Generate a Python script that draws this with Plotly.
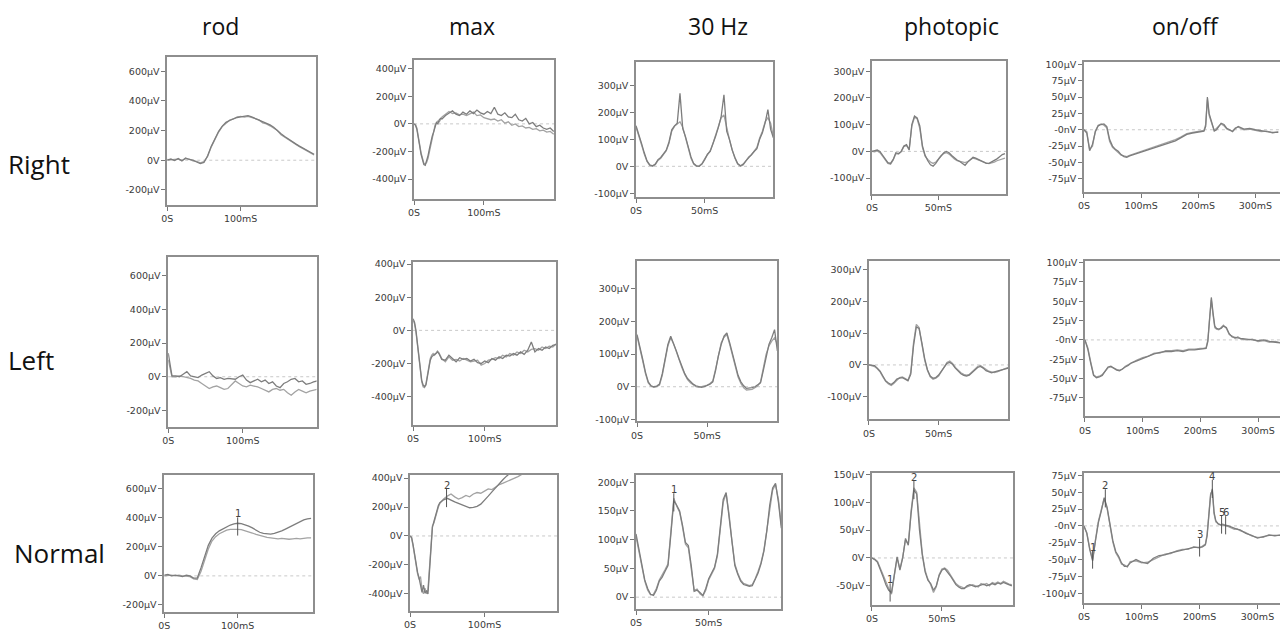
import plotly.graph_objects as go

W, H = 1280, 633

# ---------------- data ----------------
COLUMNS = ["rod", "max", "30 Hz", "photopic", "on/off"]
ROWS = ["Right", "Left", "Normal"]

T_ROD = [0, 5, 10, 15, 20, 25, 30, 35, 40, 45, 50, 55, 60, 65, 70, 75, 80, 85, 90, 95, 100,
         105, 110, 115, 120, 125, 130, 135, 140, 145, 150, 155, 160, 165, 170, 175, 180, 185, 190, 195, 200]
RIGHT_ROD_A = [0, 8, -2, 12, -5, 15, 5, 0, -12, -22, -15, 30, 95, 150, 195, 230, 255, 268, 280, 288, 292,
               298, 300, 292, 282, 268, 258, 248, 238, 222, 198, 178, 160, 142, 126, 110, 95, 80, 66, 55, 40]
RIGHT_ROD_B = [5, 2, 6, 8, 0, 10, 8, -5, -8, -18, -10, 25, 90, 145, 190, 228, 250, 270, 278, 290, 295,
               290, 295, 288, 278, 272, 252, 245, 232, 218, 200, 172, 155, 138, 122, 105, 92, 78, 62, 50, 35]
LEFT_ROD_A = [140, 5, 5, 0, 15, 30, 5, 0, -5, 10, 20, 30, 5, -10, -5, -15, -10, -12, -15, 0, 10,
              -20, -35, -25, -15, -30, -20, -40, -30, -55, -65, -40, -30, -15, -10, -30, -25, -45, -40, -30, -25]
LEFT_ROD_B = [100, 0, 0, 5, 0, -5, -10, -20, -25, -40, -55, -70, -60, -55, -65, -75, -70, -45, -25, -40, -55,
              -60, -50, -55, -60, -70, -80, -90, -75, -70, -80, -75, -95, -110, -90, -75, -85, -95, -85, -80, -75]
NORMAL_ROD_A = [5, 10, 0, 5, 0, -5, 5, 0, -15, -15, 55, 140, 210, 260, 290, 310, 325, 340, 350, 358, 362,
                360, 352, 342, 330, 315, 300, 292, 290, 288, 292, 300, 310, 322, 335, 350, 362, 375, 385, 392, 395]
NORMAL_ROD_B = [0, 5, 5, 0, 5, 0, 0, -5, -20, -25, 30, 110, 185, 240, 270, 290, 305, 315, 320, 322, 320,
                318, 312, 305, 295, 285, 278, 270, 265, 262, 258, 255, 258, 255, 252, 255, 258, 255, 260, 262, 262]

T_MAX = [0, 2, 4, 6, 8, 10, 12, 14, 16, 18, 20, 22, 24, 26, 28, 30, 32, 34, 36, 38, 40,
         45, 50, 55, 60, 65, 70, 75, 80, 85, 90, 95, 100, 105, 110, 115, 120, 125, 130, 135, 140,
         145, 150, 155, 160, 165, 170, 175, 180, 185, 190, 195, 200]
RIGHT_MAX_A = [0, -10, -40, -90, -160, -220, -270, -295, -300, -270, -230, -180, -130, -90, -60, -20, 10, 0, 30, 40, 35,
               60, 80, 95, 70, 60, 85, 70, 95, 75, 100, 80, 70, 90, 75, 120, 70, 60, 80, 50, 45,
               70, 30, 20, 40, 0, 10, -20, -10, -30, -40, -30, -55]
RIGHT_MAX_B = [0, -5, -30, -80, -150, -210, -260, -285, -290, -280, -250, -200, -150, -100, -50, -10, 5, 20, 15, 35, 50,
               70, 90, 75, 80, 65, 70, 60, 70, 85, 60, 65, 45, 40, 30, 35, 20, 30, 5, 15, -10,
               0, -20, -15, -30, -25, -40, -35, -50, -45, -60, -55, -75]
LEFT_MAX_A = [70, 50, 0, -80, -170, -250, -300, -330, -340, -330, -280, -220, -180, -160, -150, -145, -140, -130, -140, -160, -175,
              -180, -150, -170, -190, -165, -175, -170, -185, -175, -195, -200, -185, -195, -170, -180, -160, -170, -150, -155, -140,
              -150, -130, -145, -120, -70, -130, -110, -120, -100, -110, -90, -85]
LEFT_MAX_B = [60, 40, -10, -90, -180, -260, -310, -340, -345, -320, -270, -210, -170, -150, -140, -150, -135, -125, -135, -150, -170,
              -190, -160, -180, -175, -185, -170, -180, -190, -185, -180, -210, -200, -180, -175, -165, -170, -150, -160, -140, -150,
              -130, -140, -120, -130, -115, -110, -120, -100, -110, -95, -100, -80]
NORMAL_MAX_A = [0, -10, -60, -130, -200, -250, -290, -330, -390, -340, -395, -380, -400, -250, -60, 60, 100, 140, 180, 210, 230,
                250, 260, 245, 235, 225, 215, 205, 195, 198, 205, 220, 245, 275, 305, 335, 365, 390, 415, 440, 465,
                490, 510, 530, 550, 570, 590, 610, 630, 650, 670, 690, 710]
NORMAL_MAX_B = [0, -15, -70, -140, -210, -260, -300, -280, -370, -400, -360, -400, -370, -200, -30, 70, 90, 130, 170, 200, 225,
                255, 275, 290, 270, 255, 265, 280, 270, 290, 300, 295, 310, 325, 320, 340, 355, 365, 375, 385, 395,
                410, 425, 440, 460, 480, 500, 520, 540, 560, 580, 600, 620]

T_30HZ = [0, 2, 4, 6, 8, 10, 12, 14, 16, 18, 20, 22, 24, 26, 28, 30, 32, 34, 36, 38, 40, 42, 44, 46, 48, 50,
          52, 54, 56, 58, 60, 62, 64, 66, 68, 70, 72, 74, 76, 78, 80, 82, 84, 86, 88, 90, 92, 94, 96, 98, 100]
RIGHT_30_A = [150, 120, 85, 50, 20, 5, 2, 8, 25, 33, 45, 60, 90, 135, 150, 160, 270, 140, 110, 70,
              35, 10, 2, 0, 8, 25, 45, 55, 80, 112, 145, 185, 265, 130, 100, 60, 33, 10, 2, 8,
              20, 33, 45, 55, 65, 100, 124, 161, 210, 137, 106]
RIGHT_30_B = [145, 115, 80, 45, 18, 3, 0, 6, 22, 30, 42, 58, 85, 130, 148, 158, 165, 145, 105, 65,
              30, 8, 0, 2, 10, 28, 42, 58, 85, 118, 150, 180, 190, 140, 100, 62, 30, 8, 0, 5,
              22, 35, 42, 58, 70, 105, 130, 165, 180, 160, 110]
LEFT_30_A = [160, 125, 85, 45, 15, 3, 0, 2, 8, 40, 90, 130, 155, 135, 110, 85, 60, 40, 25, 15,
             8, 3, 0, -2, 0, 3, 8, 15, 50, 95, 130, 155, 165, 135, 100, 65, 35, 15, 3, -5,
             -5, -3, 0, 5, 12, 50, 95, 130, 150, 175, 110]
LEFT_30_B = [155, 120, 80, 40, 12, 2, -2, 0, 5, 35, 85, 125, 150, 132, 108, 82, 58, 38, 22, 12,
             5, 0, -2, 0, 2, 5, 10, 18, 55, 100, 135, 152, 160, 130, 95, 60, 30, 10, -3, -10,
             -10, -8, -3, 2, 15, 55, 100, 125, 140, 150, 130]
NORMAL_30_A = [110, 85, 55, 30, 15, 5, 3, 12, 28, 35, 45, 55, 110, 168, 160, 150, 125, 95, 90, 55,
               10, 12, 8, 3, 15, 32, 42, 52, 75, 125, 170, 182, 140, 95, 55, 40, 28, 22, 20, 19,
               20, 30, 42, 58, 80, 115, 160, 190, 198, 165, 120]
NORMAL_30_B = [105, 80, 52, 28, 12, 4, 5, 15, 30, 38, 48, 58, 115, 172, 158, 148, 122, 92, 86, 50,
               12, 14, 6, 2, 12, 30, 40, 50, 72, 120, 165, 180, 145, 98, 58, 42, 30, 24, 22, 20,
               22, 32, 45, 60, 82, 118, 158, 186, 196, 170, 125]

T_PHOT = T_30HZ
RIGHT_PH_A = [0, 2, 5, 0, -15, -30, -42, -45, -30, -5, -8, 0, 20, 25, 5, 100, 132, 125, 95, 20,
              -15, -35, -50, -55, -45, -30, -15, -5, 0, -5, -15, -25, -32, -38, -45, -52, -40, -30, -22, -25,
              -30, -35, -40, -45, -45, -40, -35, -28, -20, -12, -8]
RIGHT_PH_B = [0, -2, 2, -5, -18, -32, -45, -48, -32, -8, -10, -2, 18, 22, 8, 95, 128, 122, 85, 15,
              -18, -30, -40, -45, -40, -28, -15, -8, -5, -10, -20, -28, -35, -38, -40, -42, -38, -30, -25, -28,
              -32, -36, -42, -44, -46, -44, -40, -35, -32, -28, -25]
LEFT_PH_A = [0, 0, -2, -10, -20, -35, -50, -57, -62, -55, -45, -42, -40, -45, -50, -30, 60, 120, 115, 70,
             20, -15, -35, -42, -40, -32, -20, -5, 5, 8, 2, -10, -20, -28, -33, -35, -32, -25, -15, -8,
             -5, -10, -18, -22, -25, -22, -20, -18, -15, -12, -10]
LEFT_PH_B = [0, -2, -5, -12, -22, -38, -52, -60, -65, -58, -48, -40, -38, -42, -48, -25, 70, 128, 118, 65,
             15, -18, -38, -45, -42, -35, -22, -8, 8, 12, 5, -8, -18, -25, -30, -32, -30, -22, -12, -5,
             -2, -8, -15, -20, -22, -24, -22, -18, -14, -10, -8]
NORMAL_PH_A = [0, -3, -8, -20, -34, -48, -58, -62, -30, 2, -22, 0, 35, 23, 80, 122, 115, 50, 5, -25,
               -40, -46, -58, -50, -32, -22, -19, -25, -32, -40, -48, -52, -55, -55, -50, -48, -50, -52, -50, -48,
               -47, -50, -48, -46, -48, -45, -47, -44, -46, -48, -50]
NORMAL_PH_B = [0, -2, -6, -18, -32, -45, -55, -65, -35, 0, -20, 2, 32, 25, 85, 126, 118, 55, 8, -22,
               -38, -48, -62, -52, -30, -20, -18, -22, -30, -38, -46, -50, -52, -54, -52, -50, -48, -50, -52, -46,
               -48, -46, -50, -44, -46, -43, -46, -42, -45, -47, -48]

T_ONOFF = [0, 5, 10, 15, 20, 25, 30, 35, 40, 45, 50, 55, 60, 65, 70, 75, 80,
           90, 100, 110, 120, 130, 140, 150, 160, 170, 180, 190, 200,
           205, 210, 213, 216, 219, 222, 225, 228, 232, 236, 240, 245, 250, 255, 260, 265, 270,
           280, 290, 300, 310, 320, 330, 340]
RIGHT_OO_A = [0, -5, -32, -22, -3, 6, 8, 9, 5, -15, -25, -30, -33, -38, -41, -42, -40,
              -37, -34, -31, -28, -26, -23, -20, -17, -12, -7, -5, -3,
              -3, -2, 5, 50, 25, 15, 8, -2, 0, 5, 10, 8, 2, 0, -3, 2, 5,
              1, 2, 0, -2, -3, -4, -4]
RIGHT_OO_B = [0, -3, -30, -25, -2, 7, 9, 7, 3, -18, -27, -31, -35, -39, -40, -41, -39,
              -36, -33, -30, -27, -25, -22, -19, -15, -11, -6, -4, -2,
              -2, -1, 8, 46, 22, 12, 6, -1, 2, 6, 9, 6, 1, -1, -2, 3, 4,
              0, 1, -1, -3, -2, -5, -3]
LEFT_OO_A = [0, -12, -30, -46, -49, -48, -46, -40, -35, -34, -37, -39, -40, -37, -35, -33, -30,
             -27, -24, -20, -18, -16, -15, -15, -14, -15, -13, -13, -12,
             -12, -11, -2, 25, 55, 35, 18, 15, 14, 15, 18, 16, 8, 4, 3, 3, 2,
             1, 0, -1, 0, -2, -3, -4]
LEFT_OO_B = [0, -10, -28, -45, -48, -47, -45, -41, -36, -35, -36, -38, -39, -38, -34, -32, -29,
             -26, -23, -21, -17, -17, -14, -14, -13, -14, -12, -12, -11,
             -11, -10, 0, 28, 52, 32, 16, 14, 13, 16, 19, 15, 7, 5, 2, 4, 1,
             0, 1, -2, -1, -3, -2, -4]
NORMAL_OO_A = [0, -11, -35, -52, -22, 5, 22, 42, 28, 4, -22, -38, -45, -55, -60, -60, -55,
               -50, -54, -56, -48, -44, -43, -40, -38, -36, -34, -32, -32,
               -31, -28, -15, 15, 45, 55, 20, 8, 3, 2, 2, 1, 0, -2, -4, -5, -6,
               -11, -14, -18, -16, -14, -14, -14]
NORMAL_OO_B = [0, -10, -33, -50, -20, 7, 24, 40, 26, 2, -24, -40, -47, -57, -58, -61, -53,
               -52, -55, -54, -50, -45, -42, -41, -37, -35, -35, -31, -33,
               -30, -27, -12, 18, 48, 52, 18, 6, 4, 1, 3, 0, -1, -3, -5, -4, -7,
               -10, -15, -17, -17, -13, -15, -13]

# numbered peak markers in the "Normal" row: (time, value, label)
MARK_ROD_T, MARK_ROD_V, MARK_ROD_L = [100], [340], ["1"]
MARK_MAX_T, MARK_MAX_V, MARK_MAX_L = [49], [262], ["2"]
MARK_30_T, MARK_30_V, MARK_30_L = [26], [165], ["1"]
MARK_PH_T, MARK_PH_V, MARK_PH_L = [13, 30], [-62, 122], ["1", "2"]
MARK_OO_T, MARK_OO_V, MARK_OO_L = [15, 37, 200, 222, 238, 245], [-50, 41, -32, 55, 2, 1], ["1", "2", "3", "4", "5", "6"]

# tick labels
ROD_YT = [-200, 0, 200, 400, 600]
ROD_YL = ["-200µV", "0V", "200µV", "400µV", "600µV"]
MAX_YT = [-400, -200, 0, 200, 400]
MAX_YL = ["-400µV", "-200µV", "0V", "200µV", "400µV"]
HZ_YT = [-100, 0, 100, 200, 300]
HZ_YL = ["-100µV", "0V", "100µV", "200µV", "300µV"]
HZN_YT = [0, 50, 100, 150, 200]
HZN_YL = ["0V", "50µV", "100µV", "150µV", "200µV"]
PH_YT = HZ_YT
PH_YL = HZ_YL
PHN_YT = [-50, 0, 50, 100, 150]
PHN_YL = ["-50µV", "0V", "50µV", "100µV", "150µV"]
OO_YT = [-75, -50, -25, 0, 25, 50, 75, 100]
OO_YL = ["-75µV", "-50µV", "-25µV", "-0nV", "25µV", "50µV", "75µV", "100µV"]
OON_YT = [-100, -75, -50, -25, 0, 25, 50, 75]
OON_YL = ["-100µV", "-75µV", "-50µV", "-25µV", "-0nV", "25µV", "50µV", "75µV"]
X200_T, X200_L = [0, 100], ["0S", "100mS"]
X100_T, X100_L = [0, 50], ["0S", "50mS"]
XOO_T, XOO_L = [0, 100, 200, 300], ["0S", "100mS", "200mS", "300mS"]

# ---------------- panels (layout) ----------------
panels = [
    # row 1 : Right
    dict(t=T_ROD, a=RIGHT_ROD_A, b=RIGHT_ROD_B, box=(162, 311, 54, 203), xr=(0, 202), yr=(-300, 693), yt=ROD_YT, yl=ROD_YL, xt=X200_T, xl=X200_L),
    dict(t=T_MAX, a=RIGHT_MAX_A, b=RIGHT_MAX_B, box=(410, 551, 57, 197), xr=(0, 201), yr=(-543, 460), yt=MAX_YT, yl=MAX_YL, xt=X200_T, xl=X200_L),
    dict(t=T_30HZ, a=RIGHT_30_A, b=RIGHT_30_B, box=(633, 771, 59, 195), xr=(0, 100), yr=(-113, 385), yt=HZ_YT, yl=HZ_YL, xt=X100_T, xl=X100_L),
    dict(t=T_PHOT, a=RIGHT_PH_A, b=RIGHT_PH_B, box=(870, 1005, 58, 192), xr=(0, 101), yr=(-159, 337), yt=PH_YT, yl=PH_YL, xt=X100_T, xl=X100_L),
    dict(t=T_ONOFF, a=RIGHT_OO_A, b=RIGHT_OO_B, box=(1083, 1280, 59, 190), xr=(0, 343), yr=(-95, 103), yt=OO_YT, yl=OO_YL, xt=XOO_T, xl=XOO_L, open_right=True),
    # row 2 : Left
    dict(t=T_ROD, a=LEFT_ROD_A, b=LEFT_ROD_B, box=(163, 312, 256, 428), xr=(0, 199), yr=(-300, 710), yt=ROD_YT, yl=ROD_YL, xt=X200_T, xl=X200_L),
    dict(t=T_MAX, a=LEFT_MAX_A, b=LEFT_MAX_B, box=(409, 553, 261, 426), xr=(0, 200), yr=(-573, 412), yt=MAX_YT, yl=MAX_YL, xt=X200_T, xl=X200_L),
    dict(t=T_30HZ, a=LEFT_30_A, b=LEFT_30_B, box=(634, 775, 260, 422), xr=(0, 100), yr=(-106, 385), yt=HZ_YT, yl=HZ_YL, xt=X100_T, xl=X100_L),
    dict(t=T_PHOT, a=LEFT_PH_A, b=LEFT_PH_B, box=(867, 1007, 260, 420), xr=(0, 100), yr=(-172, 328), yt=PH_YT, yl=PH_YL, xt=X100_T, xl=X100_L),
    dict(t=T_ONOFF, a=LEFT_OO_A, b=LEFT_OO_B, box=(1084, 1280, 260, 417), xr=(0, 338), yr=(-99, 102), yt=OO_YT, yl=OO_YL, xt=XOO_T, xl=XOO_L, open_right=True),
    # row 3 : Normal
    dict(t=T_ROD, a=NORMAL_ROD_A, b=NORMAL_ROD_B, box=(159, 308, 476, 615), xr=(0, 202), yr=(-250, 696), yt=ROD_YT, yl=ROD_YL, xt=X200_T, xl=X200_L,
         marks=(MARK_ROD_T, MARK_ROD_V, MARK_ROD_L)),
    dict(t=T_MAX, a=NORMAL_MAX_A, b=NORMAL_MAX_B, box=(406, 554, 476, 614), xr=(0, 198), yr=(-520, 423), yt=MAX_YT, yl=MAX_YL, xt=X200_T, xl=X200_L,
         marks=(MARK_MAX_T, MARK_MAX_V, MARK_MAX_L)),
    dict(t=T_30HZ, a=NORMAL_30_A, b=NORMAL_30_B, box=(633, 779, 476, 612), xr=(0, 100), yr=(-21, 213), yt=HZN_YT, yl=HZN_YL, xt=X100_T, xl=X100_L,
         marks=(MARK_30_T, MARK_30_V, MARK_30_L)),
    dict(t=T_PHOT, a=NORMAL_PH_A, b=NORMAL_PH_B, box=(870, 1012, 474, 608), xr=(0, 101), yr=(-85, 153), yt=PHN_YT, yl=PHN_YL, xt=X100_T, xl=X100_L,
         marks=(MARK_PH_T, MARK_PH_V, MARK_PH_L)),
    dict(t=T_ONOFF, a=NORMAL_OO_A, b=NORMAL_OO_B, box=(1083, 1280, 474, 606), xr=(0, 339), yr=(-115, 79), yt=OON_YT, yl=OON_YL, xt=XOO_T, xl=XOO_L, open_right=True,
         marks=(MARK_OO_T, MARK_OO_V, MARK_OO_L)),
]

TICK_FONT = dict(family="DejaVu Sans", size=9.5, color="#3a3a3a")
FRAME = "#8e8e8e"

fig = go.Figure()
layout = {}
annotations = []
shapes = []

for i, p in enumerate(panels, start=1):
    sx = "" if i == 1 else str(i)
    xname, yname = "x" + sx, "y" + sx
    x0, x1, y0, y1 = p["box"]
    open_right = p.get("open_right", False)
    layout["xaxis" + sx] = dict(
        domain=[x0 / W, min(x1 / W, 1.0)], range=list(p["xr"]), anchor=yname,
        tickmode="array", tickvals=p["xt"], ticktext=p["xl"],
        ticks="outside", ticklen=4, tickwidth=1, tickcolor="#777",
        showline=True, linecolor=FRAME, linewidth=1.6, mirror=True,
        showgrid=False, zeroline=False, tickfont=TICK_FONT, fixedrange=True,
    )
    layout["yaxis" + sx] = dict(
        domain=[1 - y1 / H, 1 - y0 / H], range=list(p["yr"]), anchor=xname,
        tickmode="array", tickvals=p["yt"], ticktext=p["yl"],
        ticks="outside", ticklen=4, tickwidth=1, tickcolor="#777",
        showline=True, linecolor=FRAME, linewidth=1.6, mirror=not open_right,
        showgrid=False, zeroline=False, tickfont=TICK_FONT, fixedrange=True,
    )
    # dashed zero baseline
    shapes.append(dict(type="line", xref=xname + " domain", yref=yname, x0=0, x1=1, y0=0, y1=0,
                       line=dict(color="#c9c9c9", width=1, dash="3px,3px"), layer="below"))
    fig.add_trace(go.Scatter(x=p["t"], y=p["b"], xaxis=xname, yaxis=yname, mode="lines",
                             line=dict(color="#a3a3a3", width=1.3), hoverinfo="skip"))
    fig.add_trace(go.Scatter(x=p["t"], y=p["a"], xaxis=xname, yaxis=yname, mode="lines",
                             line=dict(color="#7d7d7d", width=1.3), hoverinfo="skip"))
    if "marks" in p:
        mt, mv, ml = p["marks"]
        fig.add_trace(go.Scatter(x=mt, y=mv, xaxis=xname, yaxis=yname, mode="markers",
                                 marker=dict(symbol="line-ns", size=13, line=dict(width=1, color="#555")),
                                 hoverinfo="skip"))
        for tt, vv, lab in zip(mt, mv, ml):
            annotations.append(dict(x=tt, y=vv, xref=xname, yref=yname, text=lab, showarrow=False,
                                    yanchor="bottom", yshift=5, font=dict(family="DejaVu Sans", size=10, color="#444")))

# column titles
TITLE_X = [216, 468, 715, 950, 1185]
for name, px in zip(COLUMNS, TITLE_X):
    annotations.append(dict(x=px / W, y=1 - 22 / H, xref="paper", yref="paper", text=name, showarrow=False,
                            xanchor="center", yanchor="middle", font=dict(family="Open Sans", size=23, color="#111")))
# row labels
ROW_Y = [162, 360, 555]
ROW_X = [0, 0, 6]
for name, px, py in zip(ROWS, ROW_X, ROW_Y):
    annotations.append(dict(x=px / W, y=1 - py / H, xref="paper", yref="paper", text=name, showarrow=False,
                            xanchor="left", yanchor="middle", font=dict(family="Open Sans", size=26, color="#111")))

fig.update_layout(
    width=W, height=H, margin=dict(l=0, r=0, t=0, b=0),
    paper_bgcolor="white", plot_bgcolor="white", showlegend=False,
    annotations=annotations, shapes=shapes, **layout,
)

# remove the browser's default 8px body margin so the figure sits at the page origin
fig.write_html("out.html", config={"displayModeBar": False},
               post_script="document.body.style.margin='0';document.body.style.overflow='hidden';")
